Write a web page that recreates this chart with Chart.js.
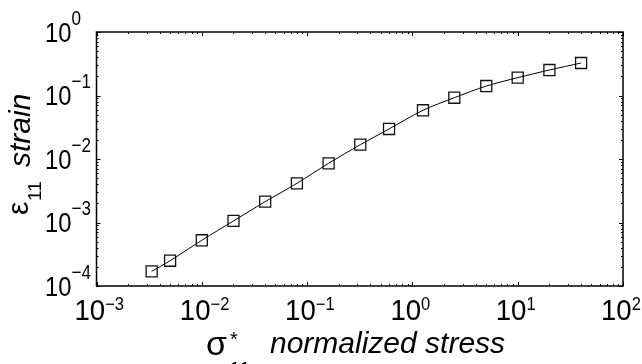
<!DOCTYPE html>
<html>
<head>
<meta charset="utf-8">
<script src="https://cdn.jsdelivr.net/npm/chart.js@4.4.1/dist/chart.umd.min.js"></script>
<style>
  html, body { margin: 0; padding: 0; background: #fff; }
  #wrap { width: 642px; height: 364px; position: relative; }
</style>
</head>
<body>
<div id="wrap"><canvas id="chart"></canvas></div>
<script>
// normalized stress (sigma*_11) and strain (epsilon_11)
const stress = [0.00334, 0.005, 0.01, 0.02, 0.04, 0.08, 0.16, 0.32, 0.6, 1.26, 2.5, 5.03, 10, 20, 40];
const strain = [1.7e-4, 2.5e-4, 5.25e-4, 1.06e-3, 2.13e-3, 4.14e-3, 8.55e-3, 0.0168, 0.0297, 0.0585, 0.0923, 0.141, 0.191, 0.252, 0.325];

// decade tick labels (exponents of 10)
const xTickExps = [-3, -2, -1, 0, 1, 2];
const yTickExps = [-4, -3, -2, -1, 0];

const FONT = '"Liberation Sans", Arial, Helvetica, sans-serif';

function expText(e) {
  return e < 0 ? "\u2212" + Math.abs(e) : String(e);
}

function minorValues(exps) {
  const vals = [];
  for (let i = 0; i < exps.length - 1; i++) {
    for (let k = 2; k <= 9; k++) vals.push(k * Math.pow(10, exps[i]));
  }
  return vals;
}

// draws "10" with a superscript exponent, left edge at x, baseline at y
function drawPow(ctx, e, x, y, base, sup, supRise, sx, sy) {
  ctx.save();
  ctx.translate(x, y);
  ctx.scale(sx, sy);
  ctx.font = base + "px " + FONT;
  ctx.textAlign = "left";
  ctx.textBaseline = "alphabetic";
  ctx.fillText("10", 0, 0);
  const w = ctx.measureText("10").width;
  ctx.font = sup + "px " + FONT;
  ctx.fillText(expText(e), w, -supRise / sy);
  ctx.restore();
}

const frame = {
  id: "frame",
  afterDraw(chart) {
    const { ctx, chartArea: a, scales } = chart;
    const xs = scales.x;
    const ys = scales.y;
    ctx.save();
    ctx.strokeStyle = "#000";
    ctx.fillStyle = "#000";

    // inward ticks on all four sides
    ctx.lineWidth = 1;
    ctx.beginPath();
    const xMajor = xTickExps.map((e) => Math.pow(10, e));
    const yMajor = yTickExps.map((e) => Math.pow(10, e));
    const tick = (vals, len, isX) => {
      vals.forEach((v) => {
        if (isX) {
          const px = Math.round(xs.getPixelForValue(v)) + 0.5;
          ctx.moveTo(px, a.bottom); ctx.lineTo(px, a.bottom - len);
          ctx.moveTo(px, a.top); ctx.lineTo(px, a.top + len);
        } else {
          const py = Math.round(ys.getPixelForValue(v)) + 0.5;
          ctx.moveTo(a.left, py); ctx.lineTo(a.left + len, py);
          ctx.moveTo(a.right, py); ctx.lineTo(a.right - len, py);
        }
      });
    };
    tick(xMajor, 4, true);
    tick(minorValues(xTickExps), 2, true);
    tick(yMajor, 4, false);
    tick(minorValues(yTickExps), 2, false);
    ctx.stroke();

    // box
    ctx.lineWidth = 1.5;
    ctx.strokeRect(a.left, a.top, a.right - a.left, a.bottom - a.top);

    // x tick labels
    xTickExps.forEach((e) => {
      const px = xs.getPixelForValue(Math.pow(10, e));
      drawPow(ctx, e, px - 22, 320, 30, 18, 10, 0.92, 1);
    });

    // y tick labels
    yTickExps.forEach((e) => {
      const py = ys.getPixelForValue(Math.pow(10, e));
      drawPow(ctx, e, 45, py + 9.5, 25, 18, 17, 0.95, 1.12);
    });

    // x axis title: sigma*_11  normalized stress
    ctx.textAlign = "left";
    ctx.textBaseline = "alphabetic";
    ctx.font = "34px " + FONT;
    ctx.fillText("\u03c3", 206, 355);
    ctx.font = "20px " + FONT;
    ctx.fillText("*", 230, 346);
    ctx.font = "21px " + FONT;
    ctx.fillText("11", 229, 376);
    ctx.font = "italic 30px " + FONT;
    ctx.fillText("normalized stress", 270, 353);

    // y axis title: epsilon_11 strain (rotated)
    ctx.save();
    ctx.rotate(-Math.PI / 2);
    ctx.font = "30px " + FONT;
    ctx.fillText("\u03b5", -215, 28);
    ctx.font = "19px " + FONT;
    ctx.fillText("11", -201, 41);
    ctx.font = "italic 30px " + FONT;
    ctx.fillText("strain", -167, 30);
    ctx.restore();

    ctx.restore();
  },
};

new Chart(document.getElementById("chart"), {
  type: "line",
  data: {
    datasets: [
      {
        data: stress.map((x, i) => ({ x, y: strain[i] })),
        borderColor: "#000",
        borderWidth: 1,
        tension: 0.3,
        pointStyle: "rect",
        pointRadius: 7.8,
        pointBorderWidth: 1.3,
        pointBorderColor: "#111",
        pointBackgroundColor: "rgba(0,0,0,0)",
      },
    ],
  },
  options: {
    responsive: true,
    maintainAspectRatio: false,
    animation: false,
    layout: { padding: { left: 96.5, right: 19, top: 32, bottom: 78 } },
    plugins: { legend: { display: false }, tooltip: { enabled: false } },
    scales: {
      x: { type: "logarithmic", min: 1e-3, max: 1e2, display: false },
      y: { type: "logarithmic", min: 1e-4, max: 1, display: false },
    },
  },
  plugins: [frame],
});
</script>
</body>
</html>
